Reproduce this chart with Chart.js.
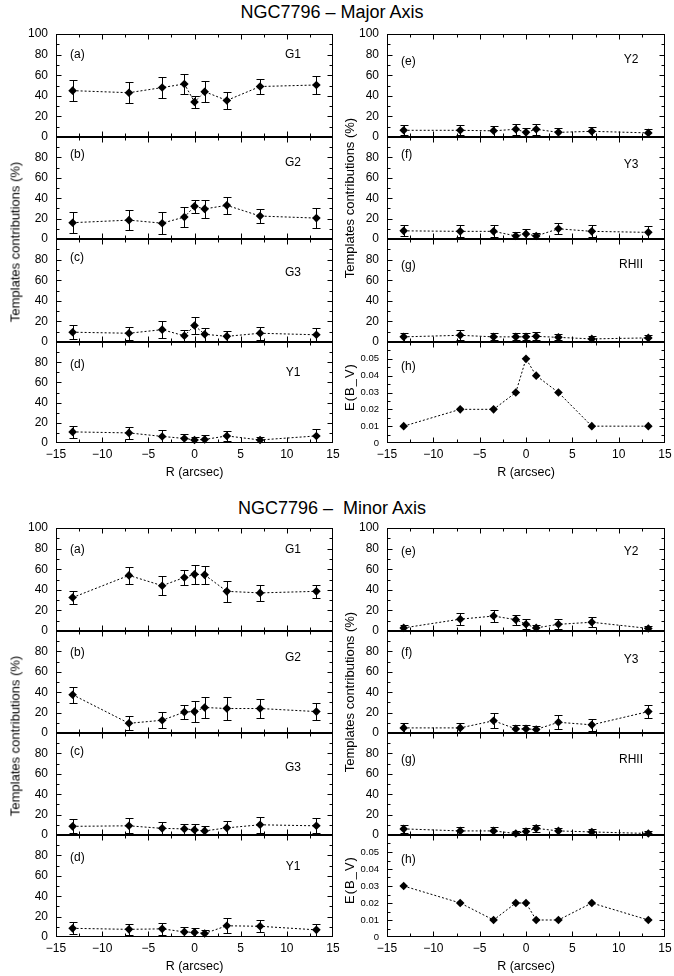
<!DOCTYPE html>
<html><head><meta charset="utf-8">
<script src="https://cdn.jsdelivr.net/npm/chart.js@4.4.1/dist/chart.umd.min.js"></script>
<style>
html,body{margin:0;padding:0;background:#fff;}
#wrap{position:relative;width:674px;height:976px;overflow:hidden;font-family:'Liberation Sans',Arial,Helvetica,sans-serif;color:#000;}
#wrap canvas{position:absolute;}
.t{position:absolute;white-space:nowrap;transform:translate(-50%,-50%);font-size:18px;}
.v{position:absolute;white-space:nowrap;transform:translate(-50%,-50%) rotate(-90deg);font-size:13px;}
.e{letter-spacing:1px;}
</style></head><body><div id="wrap"></div>
<script>
// ---------------- data ----------------
const R = [-13.2, -7.1, -3.5, -1.1, 0, 1.1, 3.5, 7.1, 13.2];

// Major axis
const majG1 = [45, 43, 48, 51.5, 34, 44, 35.5, 49, 50.5];
const majG1Err = [10, 10, 10.5, 9.5, 6, 10, 8, 7, 9];
const majG2 = [16, 18.5, 15.5, 21.5, 32, 29.5, 33, 22.5, 20.5];
const majG2Err = [10, 10, 11, 10, 6.5, 9, 8.5, 6.5, 9.5];
const majG3 = [9.5, 8.5, 12, 6, 16, 7.5, 5.5, 8.5, 7];
const majG3Err = [7, 6.5, 8, 6, 8, 6.5, 5, 6.5, 6.5];
const majY1 = [11, 10, 6.5, 4.5, 3, 3.5, 7, 3, 7];
const majY1Err = [6, 6, 6, 4.5, 3, 4, 5, 3, 6.5];
const majY2 = [6.5, 6.5, 6, 7.5, 4.5, 7.5, 4.5, 5.5, 4];
const majY2Err = [5, 5, 5, 5.5, 4, 5.5, 4, 4.5, 4];
const majY3 = [8, 7.5, 7.5, 3, 5, 3, 10, 7.5, 6.5];
const majY3Err = [5.5, 6, 6, 3.5, 5, 3, 5.5, 6, 6];
const majRHII = [5, 6.5, 5, 5, 5, 5.5, 4.5, 3, 4];
const majRHIIErr = [4, 5, 3.5, 3.5, 3.5, 4, 3, 2.5, 3];
const majEBV = [0.01, 0.02, 0.02, 0.03, 0.05, 0.04, 0.03, 0.01, 0.01];

// Minor axis
const minG1 = [32.5, 54, 44, 52, 55, 54.5, 38.5, 37, 38.5];
const minG1Err = [6, 8, 9, 7, 9.5, 9, 10.5, 8, 6];
const minG2 = [37.5, 9.5, 12.5, 20.5, 21, 25, 24, 24, 21];
const minG2Err = [8, 7, 8, 7, 10, 10, 11, 9.5, 8.5];
const minG3 = [8.5, 9, 6.5, 6, 5, 4, 7, 10, 9];
const minG3Err = [7, 7.5, 6, 5, 5.5, 4.5, 6.5, 8, 7.5];
const minY1 = [8.5, 7.5, 8, 5, 4.5, 3.5, 11, 10.5, 7];
const minY1Err = [6, 5.5, 6, 4.5, 4.5, 3, 7.5, 6, 6];
const minY2 = [3, 11.5, 14.5, 11, 6.5, 3, 6.5, 8.5, 2.5];
const minY2Err = [3, 5.5, 6, 5, 5, 2.5, 5, 5, 2.5];
const minY3 = [5, 5, 12, 4, 4, 3.5, 10.5, 8, 21];
const minY3Err = [4.5, 5, 7.5, 3.5, 4, 3.5, 7, 6, 6.5];
const minRHII = [6, 4, 4, 1.5, 3.5, 6.5, 4, 3, 1.5];
const minRHIIErr = [4, 3.5, 3.5, 2, 3.5, 3.5, 3, 3, 2];
const minEBV = [0.03, 0.02, 0.01, 0.02, 0.02, 0.01, 0.01, 0.02, 0.01];

const xTicks = [-15, -10, -5, 0, 5, 10, 15];
const leftTags = ['G1', 'G2', 'G3', 'Y1'];
const rightTags = ['Y2', 'Y3', 'RHII', ''];
const leftLetters = ['(a)', '(b)', '(c)', '(d)'];
const rightLetters = ['(e)', '(f)', '(g)', '(h)'];

// ---------------- layout ----------------
Chart.defaults.font.family = "'Liberation Sans', Arial, Helvetica, sans-serif";
Chart.defaults.font.size = 12;
Chart.defaults.color = '#000';

const wrap = document.getElementById('wrap');

const errPlugin = {
  id: 'errbars',
  beforeDatasetsDraw(chart) {
    const ds = chart.data.datasets[0];
    const err = ds.errors;
    if (!err) return;
    const {ctx, chartArea: a} = chart;
    const x = chart.scales.x, y = chart.scales.y;
    ctx.save();
    ctx.beginPath(); ctx.rect(a.left, a.top, a.right - a.left, a.bottom - a.top); ctx.clip();
    ctx.strokeStyle = '#000'; ctx.lineWidth = 1;
    ctx.beginPath();
    ds.data.forEach((p, i) => {
      const e = err[i]; if (!e) return;
      const px = Math.round(x.getPixelForValue(p.x)) + 0.5;
      const y1 = Math.round(y.getPixelForValue(p.y + e)) + 0.5;
      const y2 = Math.round(y.getPixelForValue(p.y - e)) + 0.5;
      ctx.moveTo(px, y1); ctx.lineTo(px, y2);
      ctx.moveTo(px - 4, y1); ctx.lineTo(px + 4, y1);
      ctx.moveTo(px - 4, y2); ctx.lineTo(px + 4, y2);
    });
    ctx.stroke();
    ctx.restore();
  }
};

function makeFrame(s) {
  return {
    id: 'frame',
    afterDraw(chart) {
      const {ctx, chartArea: a} = chart;
      const x = chart.scales.x, y = chart.scales.y;
      const L = Math.round(a.left) + 0.5, Rr = Math.round(a.right) - 0.5;
      const T = Math.round(a.top) + 0.5, B = Math.round(a.bottom) - 0.5;
      ctx.save();
      ctx.strokeStyle = '#000';
      ctx.lineWidth = 1;
      ctx.beginPath();
      for (let k = 1; k < 12; k++) {
        const v = -15 + 2.5 * k;
        const px = Math.round(x.getPixelForValue(v)) + 0.5;
        const len = (k % 2 === 0) ? 5 : 3;
        ctx.moveTo(px, T); ctx.lineTo(px, T + len);
        ctx.moveTo(px, B); ctx.lineTo(px, B - len);
      }
      const n = Math.round(s.ymax / s.yminor);
      const ratio = Math.round(s.ystep / s.yminor);
      for (let k = 1; k < n; k++) {
        const v = k * s.yminor;
        const py = Math.round(y.getPixelForValue(v)) + 0.5;
        const len = (k % ratio === 0) ? 5 : 3;
        ctx.moveTo(L, py); ctx.lineTo(L + len, py);
        ctx.moveTo(Rr, py); ctx.lineTo(Rr - len, py);
      }
      ctx.stroke();
      ctx.strokeRect(L, T, Rr - L, B - T);
      if (!s.bottom) {
        ctx.lineWidth = 2;
        ctx.beginPath();
        ctx.moveTo(L - 0.5, Math.round(a.bottom)); ctx.lineTo(Rr + 0.5, Math.round(a.bottom));
        ctx.stroke();
      }
      ctx.fillStyle = '#000';
      ctx.font = "12px 'Liberation Sans', Arial, sans-serif";
      ctx.textBaseline = 'middle';
      ctx.textAlign = 'left';
      ctx.fillText(s.letter, a.left + 14, a.top + s.letterDy);
      if (s.tag) {
        ctx.textAlign = 'center';
        ctx.fillText(s.tag, a.right - s.tagDx, a.top + s.tagDy);
      }
      ctx.restore();
    }
  };
}

function fmtX(v) { return v < 0 ? '\u2212' + Math.abs(v) : String(v); }

function zeroPad(sc) { sc.paddingTop = 0; sc.paddingBottom = 0; sc.paddingLeft = 0; sc.paddingRight = 0; }

function makePanel(s) {
  const cv = document.createElement('canvas');
  const yw = 40, padT = 8, padB = 8, xh = 40;
  const w = yw + (s.R - s.L) + s.padR;
  const h = padT + (s.B - s.T) + (s.bottom ? xh : padB);
  cv.width = w; cv.height = h;
  cv.style.left = (s.L - yw) + 'px'; cv.style.top = (s.T - padT) + 'px';
  cv.style.width = w + 'px'; cv.style.height = h + 'px';
  wrap.appendChild(cv);
  const pad = {left: 0, right: s.padR, top: padT, bottom: s.bottom ? 0 : padB};
  const chart = new Chart(cv, {
    type: 'scatter',
    data: {
      datasets: [{
        data: R.map((xv, i) => ({x: xv, y: s.vals[i]})),
        errors: s.err,
        showLine: true,
        borderColor: '#000', borderWidth: 1, borderDash: [2, 2],
        pointStyle: 'rectRot', pointRadius: 4.3, pointHoverRadius: 4.3,
        pointBackgroundColor: '#000', pointBorderColor: '#000', pointBorderWidth: 0,
        tension: 0, fill: false, clip: 8
      }]
    },
    options: {
      responsive: false, animation: false, events: [],
      layout: {padding: Object.assign({}, pad)},
      plugins: {legend: {display: false}, tooltip: {enabled: false}},
      scales: {
        x: {
          type: 'linear', min: -15, max: 15, display: s.bottom,
          grid: {display: false, drawTicks: false}, border: {display: false},
          afterBuildTicks(sc) { sc.ticks = xTicks.map(v => ({value: v})); },
          ticks: {autoSkip: false, maxRotation: 0, padding: 4, callback: fmtX, font: {size: 12}},
          title: {display: true, text: 'R (arcsec)', padding: {top: 0, bottom: 3}, font: {size: 12.5}},
          afterFit(sc) { sc.height = s.bottom ? xh : 0; zeroPad(sc); }
        },
        y: {
          type: 'linear', min: 0, max: s.ymax,
          grid: {display: false, drawTicks: false}, border: {display: false},
          ticks: {
            stepSize: s.ystep, autoSkip: false, padding: 8,
            font: {size: s.small ? 9.5 : 12},
            callback(v) {
              if (v > s.ymax - s.ystep / 2 && !s.showTop) return '';
              if (s.small) return v === 0 ? '0' : v.toFixed(2);
              return String(Math.round(v));
            }
          },
          afterFit(sc) { sc.width = yw; zeroPad(sc); }
        }
      }
    },
    plugins: [errPlugin, makeFrame(s)]
  });
  // correct any residual internal padding so the plot area lands exactly where wanted
  const a = chart.chartArea;
  const wantTop = padT, wantBottom = h - (s.bottom ? xh : padB);
  const wantLeft = yw, wantRight = w - s.padR;
  const dt = a.top - wantTop, db = wantBottom - a.bottom;
  const dl = a.left - wantLeft, dr = wantRight - a.right;
  if (Math.abs(dt) > 0.1 || Math.abs(db) > 0.1 || Math.abs(dl) > 0.1 || Math.abs(dr) > 0.1) {
    chart.options.layout.padding = {
      top: pad.top - dt, bottom: pad.bottom - db, left: pad.left - dl, right: pad.right - dr
    };
    chart.update('none');
  }
}

const figs = [
  {
    tops: [34, 137, 239, 342, 443], title: 'NGC7796 \u2013 Major Axis', titleY: 12,
    left: [[majG1, majG1Err], [majG2, majG2Err], [majG3, majG3Err], [majY1, majY1Err]],
    right: [[majY2, majY2Err], [majY3, majY3Err], [majRHII, majRHIIErr], [majEBV, null]],
    lLetterDy: [21, 18, 19, 23], lTagDy: [21, 26, 34, 31],
    rLetterDy: [28, 18, 27, 25], rTagDy: [26, 28, 26, 0]
  },
  {
    tops: [528, 631, 733, 835, 937], title: 'NGC7796 \u2013\u00a0 Minor Axis', titleY: 508,
    left: [[minG1, minG1Err], [minG2, minG2Err], [minG3, minG3Err], [minY1, minY1Err]],
    right: [[minY2, minY2Err], [minY3, minY3Err], [minRHII, minRHIIErr], [minEBV, null]],
    lLetterDy: [22, 22, 19, 23], lTagDy: [22, 27, 35, 32],
    rLetterDy: [24, 22, 27, 25], rTagDy: [24, 29, 27, 0]
  }
];

figs.forEach(f => {
  for (let r = 0; r < 4; r++) {
    makePanel({
      L: 56, R: 333, padR: 12, T: f.tops[r], B: f.tops[r + 1], bottom: r === 3,
      vals: f.left[r][0], err: f.left[r][1], ymax: 100, ystep: 20, yminor: 10,
      showTop: r === 0, small: false,
      letter: leftLetters[r], letterDy: f.lLetterDy[r], tag: leftTags[r], tagDy: f.lTagDy[r], tagDx: 40
    });
    const isE = r === 3;
    makePanel({
      L: 387, R: 665, padR: 9, T: f.tops[r], B: f.tops[r + 1], bottom: r === 3,
      vals: f.right[r][0], err: f.right[r][1],
      ymax: isE ? 0.06 : 100, ystep: isE ? 0.01 : 20, yminor: isE ? 0.005 : 10,
      showTop: r === 0, small: isE,
      letter: rightLetters[r], letterDy: f.rLetterDy[r], tag: rightTags[r], tagDy: f.rTagDy[r], tagDx: 34
    });
  }
  const t = document.createElement('div');
  t.className = 't'; t.textContent = f.title;
  t.style.left = '332px'; t.style.top = f.titleY + 'px';
  wrap.appendChild(t);
  const yl = document.createElement('div');
  yl.className = 'v'; yl.textContent = 'Templates contributions (%)';
  yl.style.left = '15px'; yl.style.top = (f.tops[0] + 208) + 'px';
  wrap.appendChild(yl);
  const yr = document.createElement('div');
  yr.className = 'v'; yr.textContent = 'Templates contributions (%)';
  yr.style.left = '349px'; yr.style.top = (f.tops[0] + 164) + 'px';
  wrap.appendChild(yr);
  const ye = document.createElement('div');
  ye.className = 'v e'; ye.textContent = 'E(B_V)';
  ye.style.left = '349px'; ye.style.top = (f.tops[3] + 45) + 'px';
  wrap.appendChild(ye);
});
</script></body></html>
